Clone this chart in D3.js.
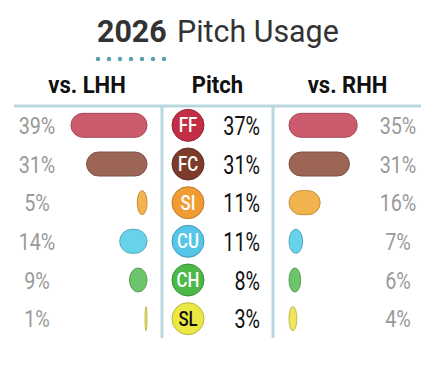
<!DOCTYPE html>
<html>
<head>
<meta charset="utf-8">
<script src="https://cdn.jsdelivr.net/npm/d3@7"></script>
<style>
  body { margin: 0; background: #fff; }
  svg { display: block; font-family: Roboto, "Noto Sans", sans-serif; }
</style>
</head>
<body>
<div class="chart"></div>
<script>
const pitches = ["FF", "FC", "SI", "CU", "CH", "SL"];
const usageAll = [37, 31, 11, 11, 8, 3];
const usageLHH = [39, 31, 5, 14, 9, 1];
const usageRHH = [35, 31, 16, 7, 6, 4];
const barColors = ["#cc5c6d", "#9c6555", "#f2b24e", "#66d3eb", "#6cc46b", "#efe65c"];
const dotColors = ["#c32e45", "#7d3b2b", "#f09c33", "#55c6e8", "#4db84a", "#ece843"];
const labelColors = ["#fff", "#fff", "#fff", "#fff", "#fff", "#111"];

const width = 446, height = 368;
const svg = d3.select(".chart").append("svg")
    .attr("width", width)
    .attr("height", height);

const lineCol = "#b8d7df";

// text squeezed horizontally around its anchor (no condensed face here)
function ctext(g, x, y, str, size, sq, anchor) {
    return g.append("text")
        .attr("transform", `translate(${x},${y}) scale(${sq},1)`)
        .attr("text-anchor", anchor || "start")
        .attr("font-size", size)
        .text(str);
}

// title
ctext(svg, 97, 42, "2026", 32, 0.95).attr("font-weight", 700).attr("fill", "#333");
ctext(svg, 177, 42, "Pitch Usage", 32, 0.95).attr("font-weight", 400).attr("fill", "#333");

svg.selectAll(".dot")
    .data(d3.range(7))
    .join("circle")
    .attr("cx", d => 98 + d * 11)
    .attr("cy", 59)
    .attr("r", 2.2)
    .attr("fill", "#5a9fb4");

// headers
const heads = [["vs. LHH", 87], ["Pitch", 217.5], ["vs. RHH", 347.5]];
heads.forEach(h => {
    ctext(svg, h[1], 93, h[0], 23, 0.96, "middle")
        .attr("font-weight", 700)
        .attr("fill", "#111");
});

// grid lines
svg.append("line").attr("x1", 14).attr("x2", 421).attr("y1", 106).attr("y2", 106)
    .attr("stroke", lineCol).attr("stroke-width", 3);
[162, 273].forEach(x => {
    svg.append("line").attr("x1", x).attr("x2", x).attr("y1", 106).attr("y2", 338)
        .attr("stroke", lineCol).attr("stroke-width", 3);
});

const y = d3.scaleBand().domain(pitches).range([106, 338]);
const w = d3.scaleLinear().domain([0, 40]).range([0, 78]);
const barH = 24;

const rows = svg.selectAll(".row")
    .data(pitches.map((p, i) => ({ p, i })))
    .join("g")
    .attr("transform", d => `translate(0,${y(d.p) + y.bandwidth() / 2})`);

function pill(g, x, wi, d) {
    g.append("rect")
        .attr("x", x)
        .attr("y", -barH / 2)
        .attr("width", wi)
        .attr("height", barH)
        .attr("rx", Math.min(wi / 2, barH / 2))
        .attr("ry", barH / 2)
        .attr("fill", barColors[d.i])
        .attr("stroke", d3.color(barColors[d.i]).darker(0.6))
        .attr("stroke-width", 1);
}

rows.each(function(d) {
    const g = d3.select(this);
    // left side
    const wl = w(usageLHH[d.i]);
    pill(g, 147 - wl, wl, d);
    ctext(g, 37, 8.5, usageLHH[d.i] + "%", 23, 0.86, "middle").attr("fill", "#9a9a9a");
    // right side
    const wr = w(usageRHH[d.i]);
    pill(g, 289, wr, d);
    ctext(g, 398, 8.5, usageRHH[d.i] + "%", 23, 0.86, "middle").attr("fill", "#9a9a9a");
    // center
    g.append("circle")
        .attr("cx", 188).attr("cy", 0).attr("r", 16)
        .attr("fill", dotColors[d.i])
        .attr("stroke", d3.color(dotColors[d.i]).darker(0.7))
        .attr("stroke-width", 1);
    ctext(g, 188, 7, d.p, 19.5, 0.86, "middle")
        .attr("font-weight", 500)
        .attr("fill", labelColors[d.i]);
    ctext(g, 260, 9.5, usageAll[d.i] + "%", 26, 0.76, "end").attr("fill", "#111");
});
</script>
</body>
</html>
